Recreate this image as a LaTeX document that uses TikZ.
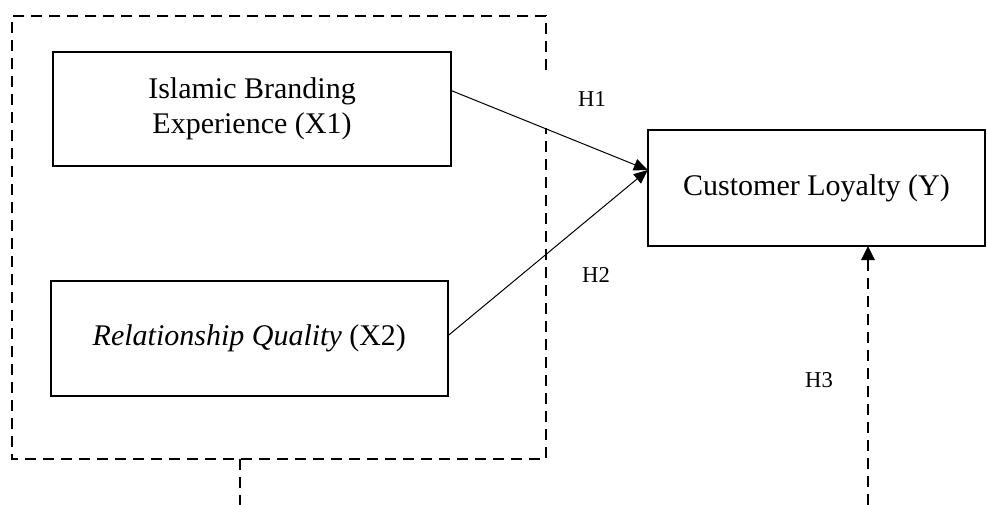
\documentclass[tikz,border=0pt]{standalone}
\usepackage{fontspec}
\setmainfont{Liberation Serif}
\usetikzlibrary{
  arrows.meta,   % filled triangle tips
  positioning    % below=of
}
\tikzset{
  every node/.style = {
    rectangle,
    draw,
    line width=1.5pt,
    align=center,
    inner sep=0pt,
    outer sep=0pt,
    font=\fontsize{22.5}{26}\selectfont
  },
  var/.append style = {minimum width=298pt, minimum height=86pt},
  dep/.append style = {minimum width=253pt, minimum height=87pt},
  hyp/.append style = {draw=none, font=\fontsize{17}{20}\selectfont},
  group/.append style = {line width=1.5pt, dash pattern=on 8pt off 5.5pt},
  link/.append style = {line width=0.75pt},
  tip/.append style = {-{Triangle[length=10.5pt,width=9pt]}}
}

\begin{document}
\begin{tikzpicture}[x=0.75pt, y=-0.75pt]

  \clip (0,0) rectangle (987,504);

  %% nodes
  \node[var] (X1) at (252,109) {Islamic Branding\\Experience (X1)};

  \node[var] (X2) [below=86pt of X1, xshift=-2pt] {\textit{Relationship Quality} (X2)};

  \node[dep] (Y) at (816.5,188) {Customer Loyalty (Y)};

  \node[hyp] (H1) at (592,99) {H1};
  \node[hyp] (H2) at (596,275) {H2};
  \node[hyp] (H3) at (819,380) {H3};

  %% dashed frame round X1 and X2
  \draw[group] (546,70) -- (546,16) -- (12,16) -- (12,459) -- (546,459) -- (546,128);
  \coordinate (grp) at (240,459);

  %% arrows
  \draw[link, tip] ([yshift=14pt]X1.east) to ([yshift=13.5pt]Y.west);
  \draw[link, tip] ([yshift=2pt]X2.east) to ([yshift=13.5pt]Y.west);

  \draw[group, -{Triangle[length=10.5pt,width=10pt]}] (grp) -- ++(0,60) -| ([xshift=38.6pt]Y.south);

\end{tikzpicture}
\end{document}
